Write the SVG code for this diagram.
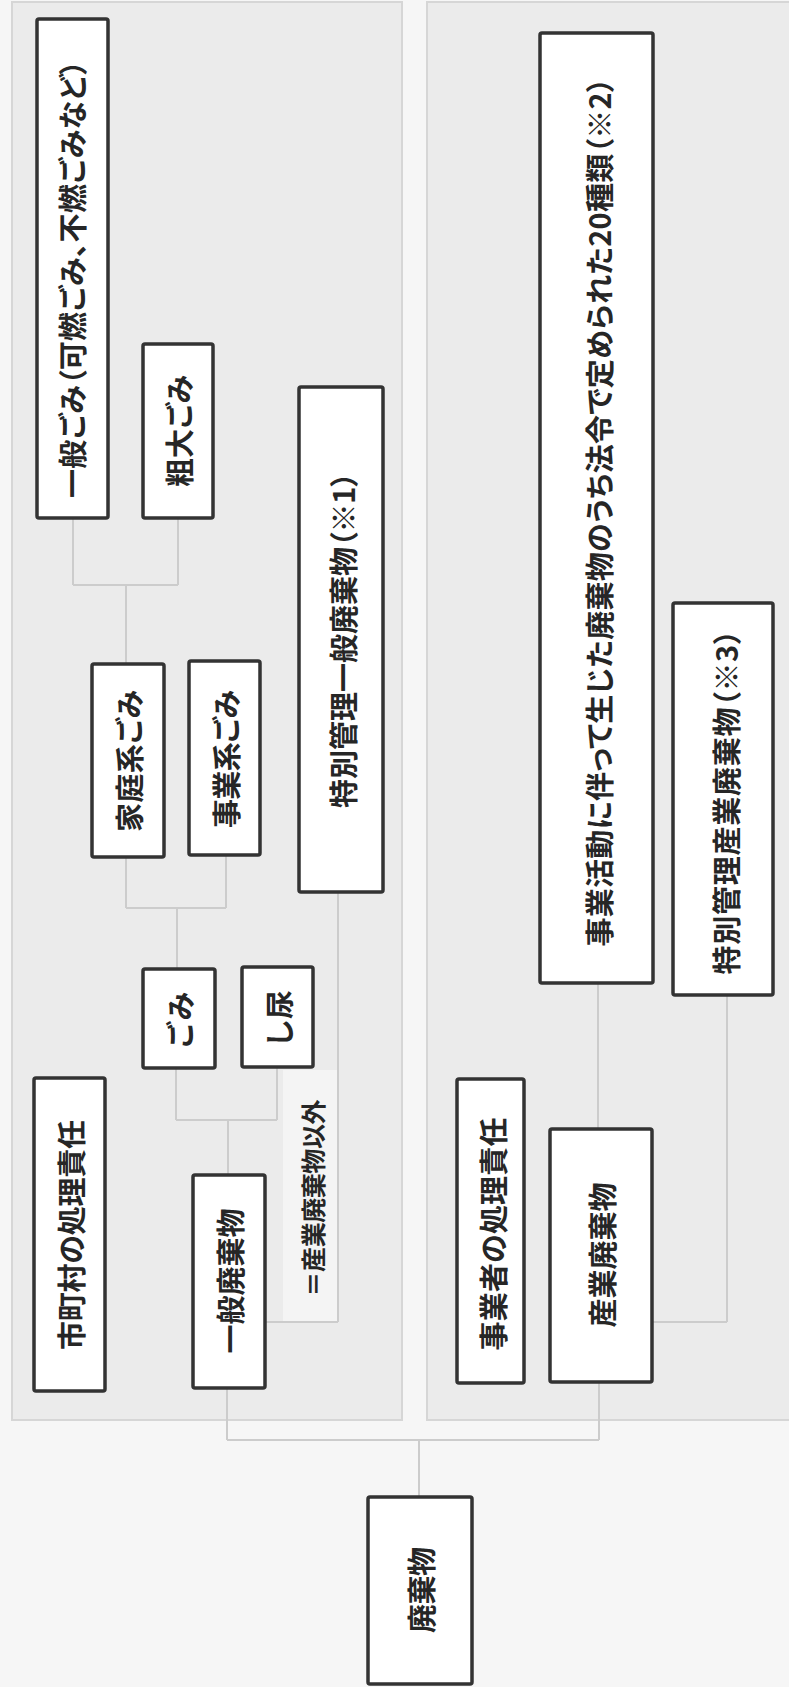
<svg xmlns="http://www.w3.org/2000/svg" width="789" height="1687" viewBox="0 0 789 1687">
<defs>
<style>
.bg{fill:#f6f6f6}
.panel{fill:#ebebeb;stroke:#d6d6d6;stroke-width:2}
.box{fill:#ffffff;stroke:#333333;stroke-width:3.5}
.lbl{fill:#f4f4f4}
.t{font-family:"Noto Sans CJK JP","Noto Sans CJK SC",sans-serif;font-size:29px;font-weight:700;fill:#262626;text-anchor:middle;dominant-baseline:central;font-feature-settings:"palt"}
.s{font-size:25px}
.c{fill:none;stroke:#cccccc;stroke-width:2}
</style>
</defs>
<rect class="bg" x="0" y="0" width="789" height="1687"/>
<g id="panels">
<rect class="panel" x="12" y="2" width="390" height="1418"/>
<rect class="panel" x="427" y="2" width="380" height="1418"/>
</g>
<g id="label-bg">
<rect class="lbl" x="283" y="1070" width="55" height="252"/>
</g>
<g id="connectors">
<path class="c" d="M73 518V585M178 518V585M73 585H178M126 585V664"/>
<path class="c" d="M126 857V908M226 855V908M126 908H226M177 908V969"/>
<path class="c" d="M176 1068V1120M277 1067V1120M176 1120H277M228 1120V1175"/>
<path class="c" d="M338 892V1322M265 1322H338"/>
<path class="c" d="M227 1388V1440M227 1440H599M599 1382V1440M419 1440V1497"/>
<path class="c" d="M598 983V1129"/>
<path class="c" d="M727 995V1322M652 1322H727"/>
</g>
<g id="n-ippangomi">
<rect class="box" x="37" y="19" width="71" height="499" rx="2"/>
<text class="t" transform="translate(71,279) rotate(-90)" textLength="438" lengthAdjust="spacing">一般ごみ（可燃ごみ、不燃ごみなど）</text>
</g>
<g id="n-sodaigomi">
<rect class="box" x="143" y="344" width="70" height="174" rx="2"/>
<text class="t" transform="translate(178,431) rotate(-90)" textLength="112" lengthAdjust="spacing">粗大ごみ</text>
</g>
<g id="n-tokubetsu-ippan">
<rect class="box" x="299" y="387" width="84" height="505" rx="2"/>
<text class="t" transform="translate(342,640) rotate(-90)" textLength="336" lengthAdjust="spacing">特別管理一般廃棄物（※1）</text>
</g>
<g id="n-kateikei">
<rect class="box" x="92" y="664" width="72" height="193" rx="2"/>
<text class="t" transform="translate(128,761) rotate(-90)" textLength="142" lengthAdjust="spacing">家庭系ごみ</text>
</g>
<g id="n-jigyoukei">
<rect class="box" x="189" y="661" width="71" height="194" rx="2"/>
<text class="t" transform="translate(225,759) rotate(-90)" textLength="138" lengthAdjust="spacing">事業系ごみ</text>
</g>
<g id="n-gomi">
<rect class="box" x="143" y="969" width="72" height="99" rx="2"/>
<text class="t" transform="translate(179,1020) rotate(-90)" textLength="56" lengthAdjust="spacing">ごみ</text>
</g>
<g id="n-shinyou">
<rect class="box" x="242" y="967" width="71" height="100" rx="2"/>
<text class="t" transform="translate(278,1018) rotate(-90)" textLength="56" lengthAdjust="spacing">し尿</text>
</g>
<g id="n-ippanhaikibutsu">
<rect class="box" x="193" y="1175" width="72" height="213" rx="2"/>
<text class="t" transform="translate(229,1281) rotate(-90)" textLength="145" lengthAdjust="spacing">一般廃棄物</text>
</g>
<g id="n-shichouson">
<rect class="box" x="34" y="1078" width="71" height="313" rx="2"/>
<text class="t" transform="translate(70,1235) rotate(-90)" textLength="230" lengthAdjust="spacing">市町村の処理責任</text>
</g>
<g id="n-label-igai">
<text class="t s" transform="translate(312,1198) rotate(-90)" textLength="197" lengthAdjust="spacing">＝産業廃棄物以外</text>
</g>
<g id="n-jigyoukatsudou">
<rect class="box" x="540" y="33" width="113" height="950" rx="2"/>
<text class="t" transform="translate(598,512) rotate(-90)" textLength="869" lengthAdjust="spacing">事業活動に伴って生じた廃棄物のうち法令で定められた20種類（※2）</text>
</g>
<g id="n-tokubetsu-sangyou">
<rect class="box" x="673" y="603" width="100" height="392" rx="2"/>
<text class="t" transform="translate(725,802) rotate(-90)" textLength="345" lengthAdjust="spacing">特別管理産業廃棄物（※3）</text>
</g>
<g id="n-jigyousha">
<rect class="box" x="457" y="1079" width="67" height="304" rx="2"/>
<text class="t" transform="translate(492,1234) rotate(-90)" textLength="233" lengthAdjust="spacing">事業者の処理責任</text>
</g>
<g id="n-sangyou">
<rect class="box" x="550" y="1129" width="102" height="253" rx="2"/>
<text class="t" transform="translate(601,1255) rotate(-90)" textLength="145" lengthAdjust="spacing">産業廃棄物</text>
</g>
<g id="n-haikibutsu">
<rect class="box" x="368" y="1497" width="104" height="187" rx="2"/>
<text class="t" transform="translate(420,1590) rotate(-90)" textLength="86" lengthAdjust="spacing">廃棄物</text>
</g>
</svg>
